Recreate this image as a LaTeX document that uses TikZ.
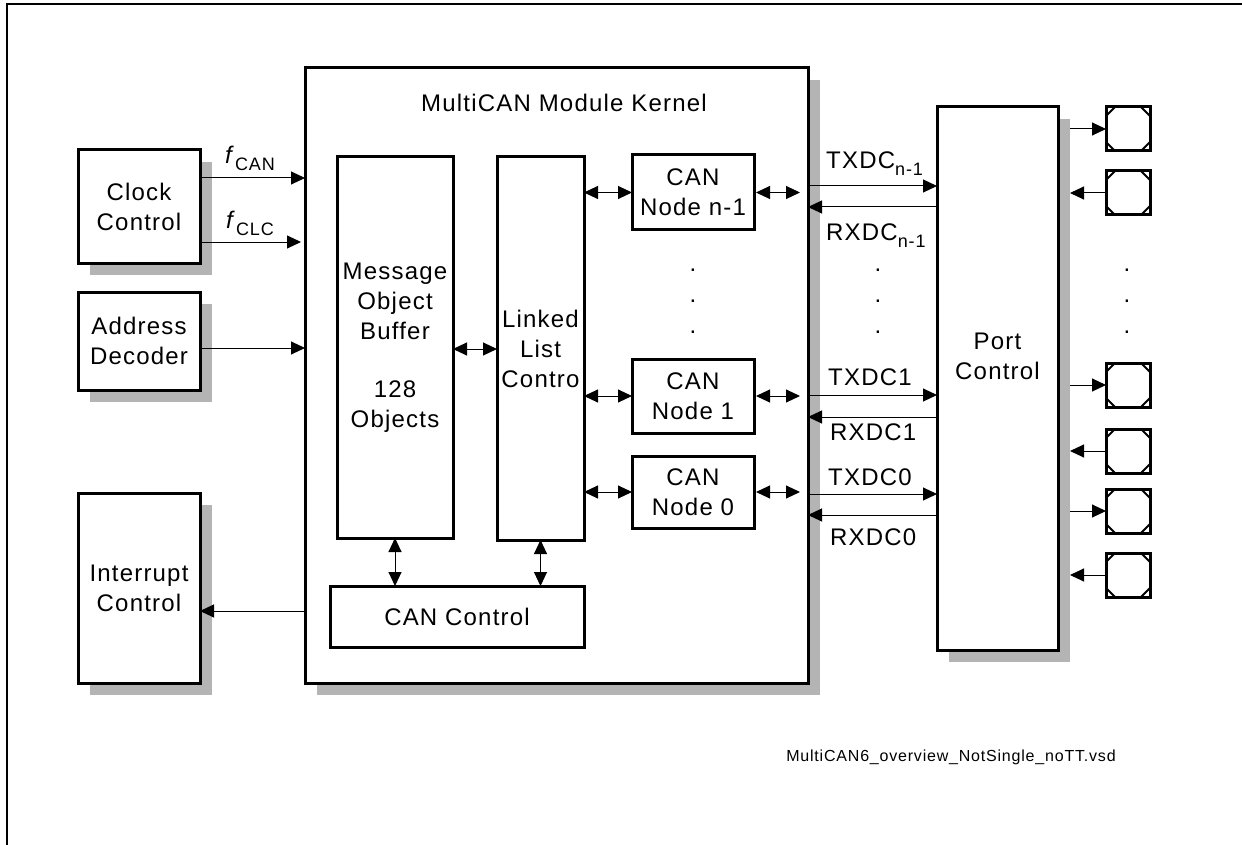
\documentclass[tikz,border=0pt]{standalone}
\usepackage{fontspec}
\setmainfont{Liberation Sans}[LetterSpace=5]
\usetikzlibrary{arrows.meta,shadows}
\definecolor{shadowc}{HTML}{B4B4B4}
\newcommand\mysubtxt[1]{\raisebox{-7pt}{\fontsize{18}{18}\selectfont #1}}
\begin{document}
\begin{tikzpicture}[x=1pt,y=-1pt,
  txt/.style={font=\fontsize{24}{30}\selectfont,align=center,inner sep=0pt},
  box/.style={draw,line width=3pt,inner sep=0pt,outer sep=0pt,fill=white,txt},
  sbox/.style={box,drop shadow={shadow xshift=12pt,shadow yshift=-12pt,fill=shadowc,opacity=1}},
  pin/.style={draw,line width=3pt,inner sep=0pt,outer sep=0pt,minimum width=44pt,minimum height=44pt,fill=white},
  arr/.style={line width=1pt,-{Triangle[length=14pt,width=13pt]}},
  darr/.style={line width=1pt,{Triangle[length=14pt,width=13pt]}-{Triangle[length=14pt,width=13pt]}},
  lbl/.style={font=\fontsize{24}{30}\selectfont,inner sep=0pt},
  dot/.style={font=\fontsize{24}{30}\selectfont,inner sep=0pt,anchor=base,text height=3pt,text depth=0pt}
]
\useasboundingbox (0,0) rectangle (1242,845);
\draw[line width=2pt] (7,845) -- (7,4) -- (1242,4);

% left boxes
\node[sbox,minimum width=122pt,minimum height=113pt] (clock) at (139,206.5) {Clock\\Control};
\node[sbox,minimum width=122pt,minimum height=98pt] (addr) at (139,341) {Address\\Decoder};
\node[sbox,minimum width=122pt,minimum height=190pt] (intr) at (139,588) {Interrupt\\Control};

% kernel
\node[sbox,minimum width=503pt,minimum height=615pt] (kernel) at (556.5,375.5) {};
\node[txt] (ktitle) at (564,103) {MultiCAN Module Kernel};

\node[box,minimum width=116pt,minimum height=381pt] (mob) at (395,347.5) {Message\\Object\\Buffer\\[28pt]128\\Objects};
\node[box,minimum width=87pt,minimum height=383pt] (llc) at (540.5,348.5) {Linked\\List\\Contro};
\node[box,minimum width=254pt,minimum height=61pt] (canctl) at (457,616.5) {CAN Control};
\node[box,minimum width=122pt,minimum height=75pt] (nn1) at (693,192.5) {CAN\\Node n-1};
\node[box,minimum width=122pt,minimum height=74pt] (node1) at (693,396) {CAN\\Node 1};
\node[box,minimum width=122pt,minimum height=72pt] (node0) at (693,492) {CAN\\Node 0};

% port control
\node[sbox,minimum width=121pt,minimum height=543pt] (port) at (997.5,378.5) {};
\node[txt] (ptext) at (997.5,356) {Port\\Control};
\coordinate (portR) at (1070,378);

% pins
\foreach \n/\yy in {1/129,2/193,3/385,4/451,5/511,6/575}{
  \node[pin] (p\n) at (1128,\yy) {};
  \draw[line width=2pt] (p\n.north west) ++(0,9) -- ++(9,-9);
  \draw[line width=2pt] (p\n.north east) ++(0,9) -- ++(-9,-9);
  \draw[line width=2pt] (p\n.south west) ++(0,-9) -- ++(9,9);
  \draw[line width=2pt] (p\n.south east) ++(0,-9) -- ++(-9,9);
}
\foreach \n in {1,3,5}{ \draw[arr] (portR |- p\n.west) -- (p\n.west); }
\foreach \n in {2,4,6}{ \draw[arr] (p\n.west) -- (portR |- p\n.west); }

% left connectors
\draw[arr] (clock.east |- 0,178) -- (kernel.west |- 0,178);
\draw[arr,shorten >=4pt] (clock.east |- 0,242) -- (kernel.west |- 0,242);
\draw[arr] (addr.east |- 0,348) -- (kernel.west |- 0,348);
\draw[arr] (kernel.west |- 0,611) -- (intr.east |- 0,611);
\node[lbl] (fcan) at (250,158) {\textit{f}\mysubtxt{CAN}};
\node[lbl] (fclc) at (250,223) {\textit{f}\mysubtxt{CLC}};

% inner connectors
\draw[darr] (mob.east |- 0,349) -- (llc.west |- 0,349);
\draw[darr] (llc.east |- nn1.west) -- (nn1.west);
\draw[darr] (llc.east |- node1.west) -- (node1.west);
\draw[darr] (llc.east |- node0.west) -- (node0.west);
\draw[darr,shorten >=8pt,shorten <=2pt] (nn1.east) -- (kernel.east |- nn1.east);
\draw[darr,shorten >=8pt,shorten <=2pt] (node1.east) -- (kernel.east |- node1.east);
\draw[darr,shorten >=8pt,shorten <=2pt] (node0.east) -- (kernel.east |- node0.east);
\draw[darr] (mob.south) -- (mob.south |- canctl.north);
\draw[darr] (llc.south) -- (llc.south |- canctl.north);

% TX / RX
\draw[arr] (kernel.east |- 0,186) -- (port.west |- 0,186);
\draw[arr] (port.west |- 0,207) -- (kernel.east |- 0,207);
\draw[arr] (kernel.east |- 0,395) -- (port.west |- 0,395);
\draw[arr] (port.west |- 0,417) -- (kernel.east |- 0,417);
\draw[arr] (kernel.east |- 0,494) -- (port.west |- 0,494);
\draw[arr] (port.west |- 0,515) -- (kernel.east |- 0,515);
\node[lbl,anchor=west] (tx2) at (826,164) {TXDC\mysubtxt{n-1}};
\node[lbl,anchor=west] (rx2) at (826,236) {RXDC\mysubtxt{n-1}};
\node[lbl,anchor=west] (tx1) at (828,377) {TXDC1};
\node[lbl,anchor=west] (rx1) at (830,432) {RXDC1};
\node[lbl,anchor=west] (tx0) at (828,477) {TXDC0};
\node[lbl,anchor=west] (rx0) at (830,537) {RXDC0};

% dots
\foreach \x in {693,878,1127}{
  \foreach \y in {271,302,333}{ \node[dot] at (\x,\y) {.}; }
}

\node[font=\fontsize{16}{18}\selectfont,inner sep=0pt] (file) at (951,757) {MultiCAN6\_overview\_NotSingle\_noTT.vsd};
\end{tikzpicture}
\end{document}
